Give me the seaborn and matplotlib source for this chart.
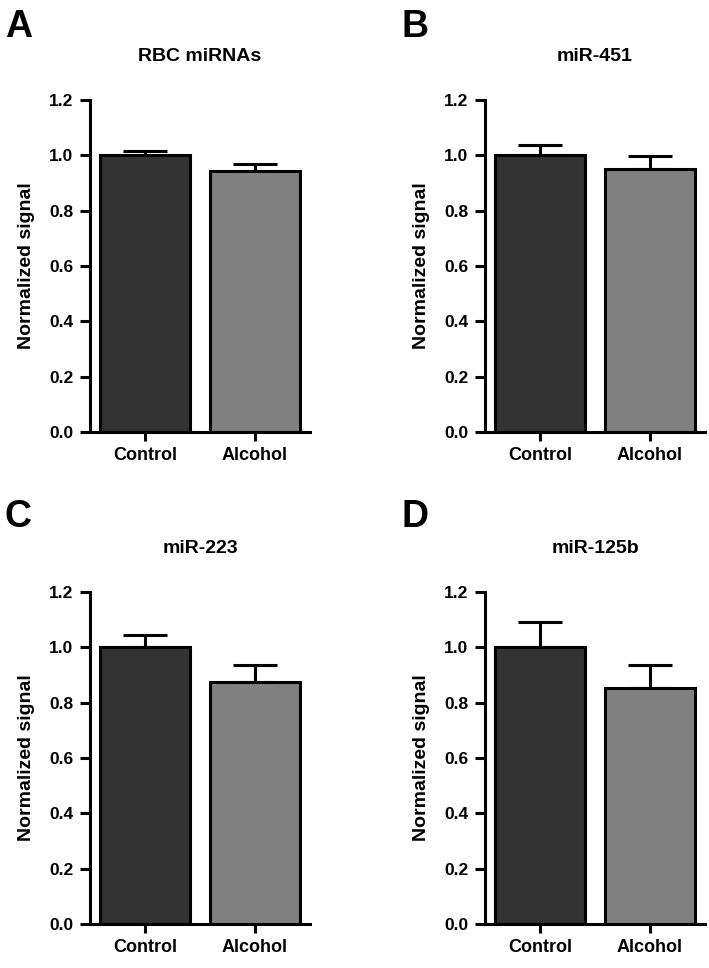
import numpy as np
import seaborn as sns
import matplotlib.pyplot as plt
from matplotlib.ticker import FormatStrFormatter

groups = ["Control", "Alcohol"]
colors = ["#333333", "#808080"]

panel_letters = ["A", "B", "C", "D"]
titles = ["RBC miRNAs", "miR-451", "miR-223", "miR-125b"]

# mean and upper error (SEM) per panel
means_rbc = [1.00, 0.942]
sem_rbc = [0.017, 0.025]
means_451 = [1.00, 0.952]
sem_451 = [0.036, 0.044]
means_223 = [1.00, 0.873]
sem_223 = [0.044, 0.064]
means_125b = [1.00, 0.852]
sem_125b = [0.091, 0.085]

all_means = [means_rbc, means_451, means_223, means_125b]
all_sems = [sem_rbc, sem_451, sem_223, sem_125b]

sns.set_style("ticks")
plt.rcParams["font.family"] = ["Liberation Sans", "DejaVu Sans"]
plt.rcParams["font.weight"] = "bold"
plt.rcParams["text.color"] = "black"
plt.rcParams["axes.labelcolor"] = "black"

W, H = 709, 968
fig = plt.figure(figsize=(W / 100, H / 100), dpi=100)

# axes boxes in pixels: left, top(y=1.2), right, bottom(y=0)
boxes = [(90, 100, 310, 432), (485, 100, 705, 432),
         (90, 592, 310, 924), (485, 592, 705, 924)]
letter_pos = [(5, 37), (401, 37), (5, 527), (401, 527)]

lw = 2.2
for i in range(4):
    l, t, r, b = boxes[i]
    ax = fig.add_axes([l / W, 1 - b / H, (r - l) / W, (b - t) / H])
    sns.barplot(x=groups, y=all_means[i], hue=groups, palette=colors,
                legend=False, width=0.81, edgecolor="black", linewidth=lw,
                ax=ax, zorder=2)
    ax.errorbar([0, 1], all_means[i], yerr=[np.zeros(2), all_sems[i]],
                fmt="none", ecolor="black", elinewidth=lw, capsize=15.5,
                capthick=lw, zorder=1)
    ax.set_xlim(-0.5, 1.5)
    ax.set_ylim(0, 1.2)
    ax.set_yticks(np.arange(0, 1.21, 0.2))
    ax.yaxis.set_major_formatter(FormatStrFormatter("%.1f"))
    sns.despine(ax=ax)
    for s in ["left", "bottom"]:
        ax.spines[s].set_linewidth(lw)
        ax.spines[s].set_color("black")
    ax.tick_params(axis="y", length=7, width=lw, pad=5, labelsize=12.5,
                   colors="black")
    ax.tick_params(axis="x", length=6.5, width=lw, pad=4, labelsize=13,
                   colors="black")
    for lab in ax.get_xticklabels() + ax.get_yticklabels():
        lab.set_fontweight("bold")
    ax.set_xlabel("")
    ax.set_ylabel("Normalized signal", fontsize=14, fontweight="bold",
                  labelpad=10, color="black")
    ax.set_title(titles[i], fontsize=14, fontweight="bold", pad=28,
                 color="black")
    lx, ly = letter_pos[i]
    fig.text(lx / W, 1 - ly / H, panel_letters[i], fontsize=27,
             fontweight="bold", ha="left", va="baseline", color="black")

fig.savefig("out.png", dpi=100)
